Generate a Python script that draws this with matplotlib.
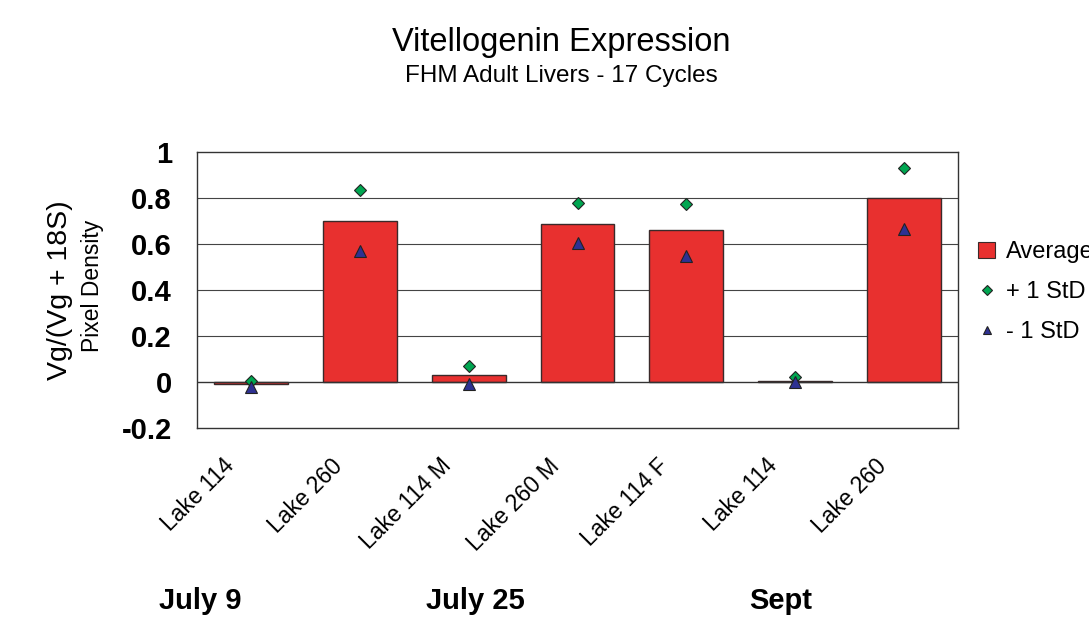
import matplotlib
matplotlib.use("Agg")
import matplotlib.pyplot as plt
import matplotlib.transforms as mtransforms
from matplotlib.lines import Line2D
from matplotlib.patches import Patch

plt.rcParams['font.family'] = ['Liberation Sans', 'DejaVu Sans']

categories = ["Lake 114", "Lake 260", "Lake 114 M", "Lake 260 M", "Lake 114 F", "Lake 114", "Lake 260"]
average = [-0.01, 0.70, 0.03, 0.687, 0.66, 0.005, 0.80]
plus_sd = [0.005, 0.835, 0.07, 0.78, 0.775, 0.02, 0.93]
minus_sd = [-0.02, 0.57, -0.01, 0.605, 0.55, 0.0, 0.665]
yticks = [-0.2, 0, 0.2, 0.4, 0.6, 0.8, 1]
ytick_labels = ["-0.2", "0", "0.2", "0.4", "0.6", "0.8", "1"]
date_labels = ["July 9", "July 25", "Sept"]
date_pos = [-0.47, 2.06, 4.87]

fig = plt.figure(figsize=(10.89, 6.21), dpi=100)
ax = fig.add_axes([197/1089, 1-428/621, (958-197)/1089, (428-152)/621])

x = list(range(len(categories)))
ax.bar(x, average, width=0.68, color="#E8302F", edgecolor="#3a2a2a", linewidth=1.0, zorder=2)
ax.plot(x, plus_sd, linestyle="none", marker="D", markersize=6, color="#00A651",
        markeredgecolor="#222222", markeredgewidth=0.8, zorder=3)
ax.plot(x, minus_sd, linestyle="none", marker="^", markersize=8, color="#2E3192",
        markeredgecolor="#222222", markeredgewidth=0.8, zorder=3)

ax.set_xlim(-0.5, len(categories) - 0.5)
ax.set_ylim(-0.2, 1.0)
for yv in [0.2, 0.4, 0.6, 0.8]:
    ax.axhline(yv, color="#444444", linewidth=0.8, zorder=1)
ax.axhline(0, color="#333333", linewidth=1.0, zorder=2.5)
for s in ax.spines.values():
    s.set_color("#333333")
    s.set_linewidth(1.0)

ax.set_yticks(yticks)
ax.set_yticklabels(ytick_labels, fontsize=21, fontweight="bold")
ax.tick_params(axis="y", length=0, pad=18)
ax.set_xticks(x)
ax.set_xticklabels(categories, rotation=45, ha="right", va="top", fontsize=16.5)
ax.tick_params(axis="x", length=0, pad=19)
offset = mtransforms.ScaledTranslation(-13/100, 0, fig.dpi_scale_trans)
for lbl in ax.get_xticklabels():
    lbl.set_transform(lbl.get_transform() + offset)

fig.text(60/1089, 1-290/621, "Vg/(Vg + 18S)", rotation=90, fontsize=20.5, ha="center", va="center")
fig.text(92/1089, 1-286/621, "Pixel Density", rotation=90, fontsize=16.5, ha="center", va="center")

fig.text(561/1089, 1-42/621, "Vitellogenin Expression", fontsize=23.5, ha="center", va="center")
fig.text(561/1089, 1-76/621, "FHM Adult Livers - 17 Cycles", fontsize=17.5, ha="center", va="center")

for lab, pos in zip(date_labels, date_pos):
    xd = ax.transData.transform((pos, 0))[0]
    fig.text(xd / 1089, 1-601/621, lab, fontsize=21, fontweight="bold", ha="center", va="center")

handles = [
    Patch(facecolor="#E8302F", edgecolor="#3a2a2a", linewidth=0.8),
    Line2D([], [], linestyle="none", marker="D", markersize=5, color="#00A651",
           markeredgecolor="#222222", markeredgewidth=0.8),
    Line2D([], [], linestyle="none", marker="^", markersize=6, color="#2E3192",
           markeredgecolor="#222222", markeredgewidth=0.8),
]
fig.legend(handles, ["Average", "+ 1 StD", "- 1 StD"], loc="upper left",
           bbox_to_anchor=(969/1089, 1-232/621), frameon=False, fontsize=17,
           handlelength=0.7, handletextpad=0.45, labelspacing=0.75, borderaxespad=0)

fig.savefig("out.png", dpi=100)
